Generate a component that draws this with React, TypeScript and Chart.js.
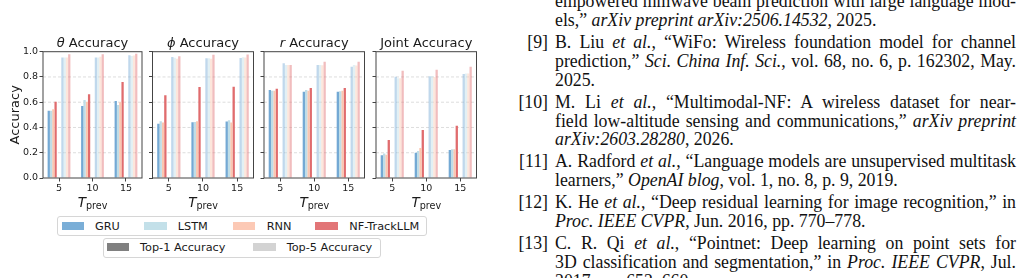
import React, { useEffect, useRef } from 'react';
import { Chart, registerables } from 'chart.js';

Chart.register(...registerables);

// ---------------- data ----------------
const categories = ['5', '10', '15'];
const models = ['GRU', 'LSTM', 'RNN', 'NF-TrackLLM'];
const metricLabels = ['Top-1 Accuracy', 'Top-5 Accuracy'];
const yTickValues = [0, 0.2, 0.4, 0.6, 0.8, 1.0];
const gridValues = [0.2, 0.4, 0.6, 0.8];

// rows: GRU, LSTM, RNN, NF-TrackLLM ; columns: T_prev = 5, 10, 15
const thetaTop1 = [[0.533, 0.570, 0.610], [0.533, 0.617, 0.578], [0.544, 0.604, 0.600], [0.604, 0.663, 0.760]];
const thetaTop5 = [[0.955, 0.955, 0.971], [0.955, 0.955, 0.965], [0.955, 0.960, 0.970], [0.979, 0.980, 0.984]];
const phiTop1 = [[0.430, 0.441, 0.447], [0.449, 0.443, 0.457], [0.440, 0.450, 0.440], [0.655, 0.720, 0.723]];
const phiTop5 = [[0.958, 0.948, 0.950], [0.953, 0.948, 0.957], [0.945, 0.945, 0.955], [0.963, 0.975, 0.977]];
const rTop1 = [[0.697, 0.683, 0.683], [0.690, 0.697, 0.687], [0.690, 0.690, 0.690], [0.707, 0.712, 0.712]];
const rTop5 = [[0.908, 0.895, 0.881], [0.895, 0.895, 0.895], [0.895, 0.893, 0.890], [0.895, 0.921, 0.921]];
const jointTop1 = [[0.180, 0.200, 0.222], [0.193, 0.214, 0.228], [0.185, 0.238, 0.228], [0.301, 0.380, 0.414]];
const jointTop5 = [[0.802, 0.805, 0.823], [0.790, 0.805, 0.828], [0.790, 0.800, 0.828], [0.850, 0.857, 0.881]];

const panelSymbols = ['θ', 'ϕ', 'r', ''];
const panelTitleRest = [' Accuracy', ' Accuracy', ' Accuracy', 'Joint Accuracy'];
const panelTop1 = [thetaTop1, phiTop1, rTop1, jointTop1];
const panelTop5 = [thetaTop5, phiTop5, rTop5, jointTop5];

// ---------------- style ----------------
const FAMILY = '"DejaVu Sans", sans-serif';
const SERIF = '"Liberation Serif", "Times New Roman", serif';
const top1Colors = ['#74a9d4', '#bfdde7', '#fbc7b0', '#e06c6e'];
const top5Colors = ['rgba(116,169,212,0.45)', 'rgba(191,221,231,0.45)', 'rgba(251,199,176,0.45)', 'rgba(224,108,110,0.45)'];
const legendColors = ['#7aaed7', '#c3e0e9', '#fcc9b5', '#e27577'];
const metricColors = ['#808080', '#d3d3d3'];
const FRAME = '#444444';
const TEXT = '#1a1a1a';
const TICK_FS = 9.5;

// geometry (page px)
const PAGE_TOP = 28;
const PAGE_BOTTOM = 215;
const PLOT_TOP = 51.7;
const PLOT_BOTTOM = 178;
const plotLefts = [43, 152.5, 264, 376];
const plotRights = [142, 253.5, 364.5, 476.5];
const canvasLefts = [0, 146, 257, 369];
const canvasWidths = [148, 114, 114, 114];

function Panel({ idx }: { idx: number }) {
  const ref = useRef<HTMLCanvasElement | null>(null);
  const cl = canvasLefts[idx];
  const cw = canvasWidths[idx];
  const ch = PAGE_BOTTOM - PAGE_TOP;

  useEffect(() => {
    if (!ref.current) return;
    const yW = plotLefts[idx] - cl;
    const rightPad = cw - (plotRights[idx] - cl);
    const topPad = PLOT_TOP - PAGE_TOP;
    const xH = PAGE_BOTTOM - PLOT_BOTTOM;
    const top1 = panelTop1[idx];
    const top5 = panelTop5[idx];

    const datasets: any[] = [];
    const common = { categoryPercentage: 0.68, barPercentage: 1.0, borderWidth: 0 };
    models.forEach((m, j) => {
      datasets.push({
        ...common,
        label: m + ' ' + metricLabels[0],
        data: categories.map((_, k) => ({ x: k, y: top1[j][k] })),
        backgroundColor: top1Colors[j],
      });
    });
    for (let s = 0; s < 2; s++) {
      datasets.push({
        ...common,
        label: 'spacer' + s,
        data: categories.map((_, k) => ({ x: k, y: null })),
        backgroundColor: 'rgba(0,0,0,0)',
      });
    }
    models.forEach((m, j) => {
      datasets.push({
        ...common,
        label: m + ' ' + metricLabels[1],
        data: categories.map((_, k) => ({ x: k, y: top5[j][k] })),
        backgroundColor: top5Colors[j],
      });
    });

    const deco = {
      id: 'deco' + idx,
      beforeDatasetsDraw(chart: any) {
        const { ctx, chartArea: a, scales } = chart;
        ctx.save();
        ctx.strokeStyle = '#d4d4d4';
        ctx.lineWidth = 0.8;
        ctx.setLineDash([3, 2]);
        for (const v of gridValues) {
          const py = scales.y.getPixelForValue(v);
          ctx.beginPath();
          ctx.moveTo(a.left, py);
          ctx.lineTo(a.right, py);
          ctx.stroke();
        }
        ctx.restore();
      },
      afterDraw(chart: any) {
        const { ctx, chartArea: a } = chart;
        ctx.save();
        ctx.setLineDash([]);
        ctx.strokeStyle = FRAME;
        ctx.lineWidth = 1;
        ctx.strokeRect(a.left, a.top, a.right - a.left, a.bottom - a.top);

        ctx.fillStyle = TEXT;
        ctx.textBaseline = 'alphabetic';
        ctx.textAlign = 'left';
        // title
        const sym = panelSymbols[idx];
        const rest = panelTitleRest[idx];
        ctx.font = `italic 13px ${FAMILY}`;
        const w1 = sym ? ctx.measureText(sym).width : 0;
        ctx.font = `13px ${FAMILY}`;
        const w2 = ctx.measureText(rest).width;
        let x = (a.left + a.right) / 2 - (w1 + w2) / 2;
        const tb = a.top - 5;
        if (sym) {
          ctx.font = `italic 13px ${FAMILY}`;
          ctx.fillText(sym, x, tb);
          x += w1;
        }
        ctx.font = `13px ${FAMILY}`;
        ctx.fillText(rest, x, tb);

        // x title: T_prev
        ctx.font = `italic 13.5px ${FAMILY}`;
        const wT = ctx.measureText('T').width;
        ctx.font = `9.6px ${FAMILY}`;
        const wP = ctx.measureText('prev').width;
        let xx = (a.left + a.right) / 2 - (wT + wP) / 2;
        const xb = a.bottom + 28.7;
        ctx.font = `italic 13.5px ${FAMILY}`;
        ctx.fillText('T', xx, xb);
        xx += wT;
        ctx.font = `9.6px ${FAMILY}`;
        ctx.fillText('prev', xx, xb + 2.6);

        // y title
        if (idx === 0) {
          ctx.translate(18.8 - cl, (a.top + a.bottom) / 2);
          ctx.rotate(-Math.PI / 2);
          ctx.textAlign = 'center';
          ctx.font = `13px ${FAMILY}`;
          ctx.fillText('Accuracy', 0, 0);
        }
        ctx.restore();
      },
    };

    const chart = new Chart(ref.current, {
      type: 'bar',
      data: { datasets },
      options: {
        animation: false,
        responsive: false,
        devicePixelRatio: 1,
        events: [],
        layout: { padding: { left: 0, top: topPad, right: rightPad, bottom: 0 } },
        plugins: { legend: { display: false }, tooltip: { enabled: false }, title: { display: false } },
        scales: {
          x: {
            type: 'linear',
            min: -0.478,
            max: 2.478,
            offset: false,
            afterBuildTicks: (s: any) => {
              s.ticks = categories.map((_, i) => ({ value: i }));
            },
            afterFit: (s: any) => {
              s.height = xH;
            },
            grid: { display: true, offset: false, drawOnChartArea: false, drawTicks: true, tickLength: 3.5, tickColor: FRAME, tickWidth: 1 },
            border: { display: false },
            ticks: {
              autoSkip: false,
              maxRotation: 0,
              padding: 1,
              color: TEXT,
              font: { family: FAMILY, size: TICK_FS },
              callback: (v: any) => categories[Math.round(Number(v))] ?? '',
            },
          },
          y: {
            type: 'linear',
            min: 0,
            max: 1,
            afterBuildTicks: (s: any) => {
              s.ticks = yTickValues.map((v) => ({ value: v }));
            },
            afterFit: (s: any) => {
              s.width = yW;
            },
            grid: { display: true, drawOnChartArea: false, drawTicks: true, tickLength: 3.5, tickColor: FRAME, tickWidth: 1 },
            border: { display: false },
            ticks: {
              padding: 1.5,
              color: TEXT,
              font: { family: FAMILY, size: TICK_FS },
              callback: (v: any) => (idx === 0 ? Number(v).toFixed(1) : ''),
            },
          },
        },
      } as any,
      plugins: [deco],
    });
    return () => chart.destroy();
  }, []);

  return (
    <canvas
      ref={ref}
      width={cw}
      height={ch}
      style={{ position: 'absolute', left: cl, top: PAGE_TOP, width: cw, height: ch }}
    />
  );
}

// ---------------- legends (HTML) ----------------
const LFS = 11.3;
const legend1Patch = [61.7, 144.3, 232.7, 315.3];
const legend1Text = [95, 177.7, 266.7, 349.3];
const legend2Patch = [106.7, 253.3];
const legend2Text = [140, 286.7];

function Legends() {
  const textStyle = (left: number, baseline: number): React.CSSProperties => ({
    position: 'absolute',
    left,
    top: baseline - 0.928 * LFS,
    fontFamily: FAMILY,
    fontSize: LFS,
    lineHeight: `${1.164 * LFS}px`,
    color: TEXT,
    whiteSpace: 'nowrap',
  });
  const boxStyle = (l: number, t: number, r: number, b: number): React.CSSProperties => ({
    position: 'absolute',
    left: l,
    top: t,
    width: r - l,
    height: b - t,
    boxSizing: 'border-box',
    border: '1px solid #d6d6d6',
    borderRadius: 3,
    background: '#fff',
  });
  return (
    <>
      <div style={boxStyle(56.7, 215.7, 426.7, 236.3)} />
      {models.map((m, i) => (
        <React.Fragment key={m}>
          <div style={{ position: 'absolute', left: legend1Patch[i], top: 221.5, width: 22.6, height: 8, background: legendColors[i] }} />
          <div style={textStyle(legend1Text[i], 230)}>{m}</div>
        </React.Fragment>
      ))}
      <div style={boxStyle(102.7, 237.7, 380.7, 258)} />
      {metricLabels.map((m, i) => (
        <React.Fragment key={m}>
          <div style={{ position: 'absolute', left: legend2Patch[i], top: 243.3, width: 22.6, height: 8, background: metricColors[i] }} />
          <div style={textStyle(legend2Text[i], 251.8)}>{m}</div>
        </React.Fragment>
      ))}
    </>
  );
}

// ---------------- reference list text (right column) ----------------
const RFS = 17.8;
const TEXT_LEFT = 555;
const TEXT_RIGHT = 1016;
const LABEL_RIGHT = 548;

type RefLine = { label?: string; justify: boolean; content: React.ReactNode; baseline: number };

const refLines: RefLine[] = [
  { justify: true, baseline: 7.6, content: <>empowered mmwave beam prediction with large language mod-</> },
  { justify: false, baseline: 26.6, content: <>els,” <i>arXiv preprint arXiv:2506.14532</i>, 2025.</> },
  { label: '[9]', justify: true, baseline: 48.8, content: <>B. Liu <i>et al.</i>, “WiFo: Wireless foundation model for channel</> },
  { justify: true, baseline: 67.6, content: <>prediction,” <i>Sci. China Inf. Sci.</i>, vol. 68, no. 6, p. 162302, May.</> },
  { justify: false, baseline: 86.4, content: <>2025.</> },
  { label: '[10]', justify: true, baseline: 108.4, content: <>M. Li <i>et al.</i>, “Multimodal-NF: A wireless dataset for near-</> },
  { justify: true, baseline: 127.2, content: <>field low-altitude sensing and communications,” <i>arXiv preprint</i></> },
  { justify: false, baseline: 146.0, content: <><i>arXiv:2603.28280</i>, 2026.</> },
  { label: '[11]', justify: true, baseline: 168.0, content: <>A. Radford <i>et al.</i>, “Language models are unsupervised multitask</> },
  { justify: false, baseline: 186.8, content: <>learners,” <i>OpenAI blog</i>, vol. 1, no. 8, p. 9, 2019.</> },
  { label: '[12]', justify: true, baseline: 208.8, content: <>K. He <i>et al.</i>, “Deep residual learning for image recognition,” in</> },
  { justify: false, baseline: 227.6, content: <><i>Proc. IEEE CVPR</i>, Jun. 2016, pp. 770–778.</> },
  { label: '[13]', justify: true, baseline: 249.6, content: <>C. R. Qi <i>et al.</i>, “Pointnet: Deep learning on point sets for</> },
  { justify: true, baseline: 268.4, content: <>3D classification and segmentation,” in <i>Proc. IEEE CVPR</i>, Jul.</> },
  { justify: false, baseline: 287.2, content: <>2017, pp. 652–660.</> },
];

function RefText() {
  const lh = 19;
  const baseOff = (lh - 1.107 * RFS) / 2 + 0.891 * RFS;
  return (
    <>
      {refLines.map((ln, i) => (
        <React.Fragment key={i}>
          {ln.label && (
            <div
              style={{
                position: 'absolute',
                left: LABEL_RIGHT - 60,
                width: 60,
                top: ln.baseline - baseOff,
                textAlign: 'right',
                fontFamily: SERIF,
                fontSize: RFS,
                lineHeight: `${lh}px`,
                color: '#111',
                whiteSpace: 'nowrap',
              }}
            >
              {ln.label}
            </div>
          )}
          <div
            style={{
              position: 'absolute',
              left: TEXT_LEFT,
              width: TEXT_RIGHT - TEXT_LEFT,
              top: ln.baseline - baseOff,
              textAlign: ln.justify ? 'justify' : 'left',
              textAlignLast: ln.justify ? 'justify' : 'left',
              fontFamily: SERIF,
              fontSize: RFS,
              lineHeight: `${lh}px`,
              color: '#111',
              whiteSpace: 'nowrap',
            } as React.CSSProperties}
          >
            {ln.content}
          </div>
        </React.Fragment>
      ))}
    </>
  );
}

export default function App() {
  return (
    <div
      style={{
        position: 'absolute',
        left: 0,
        top: 0,
        width: 1025,
        height: 278,
        overflow: 'hidden',
        background: '#fff',
      }}
    >
      {[0, 1, 2, 3].map((i) => (
        <Panel key={i} idx={i} />
      ))}
      <Legends />
      <RefText />
    </div>
  );
}
